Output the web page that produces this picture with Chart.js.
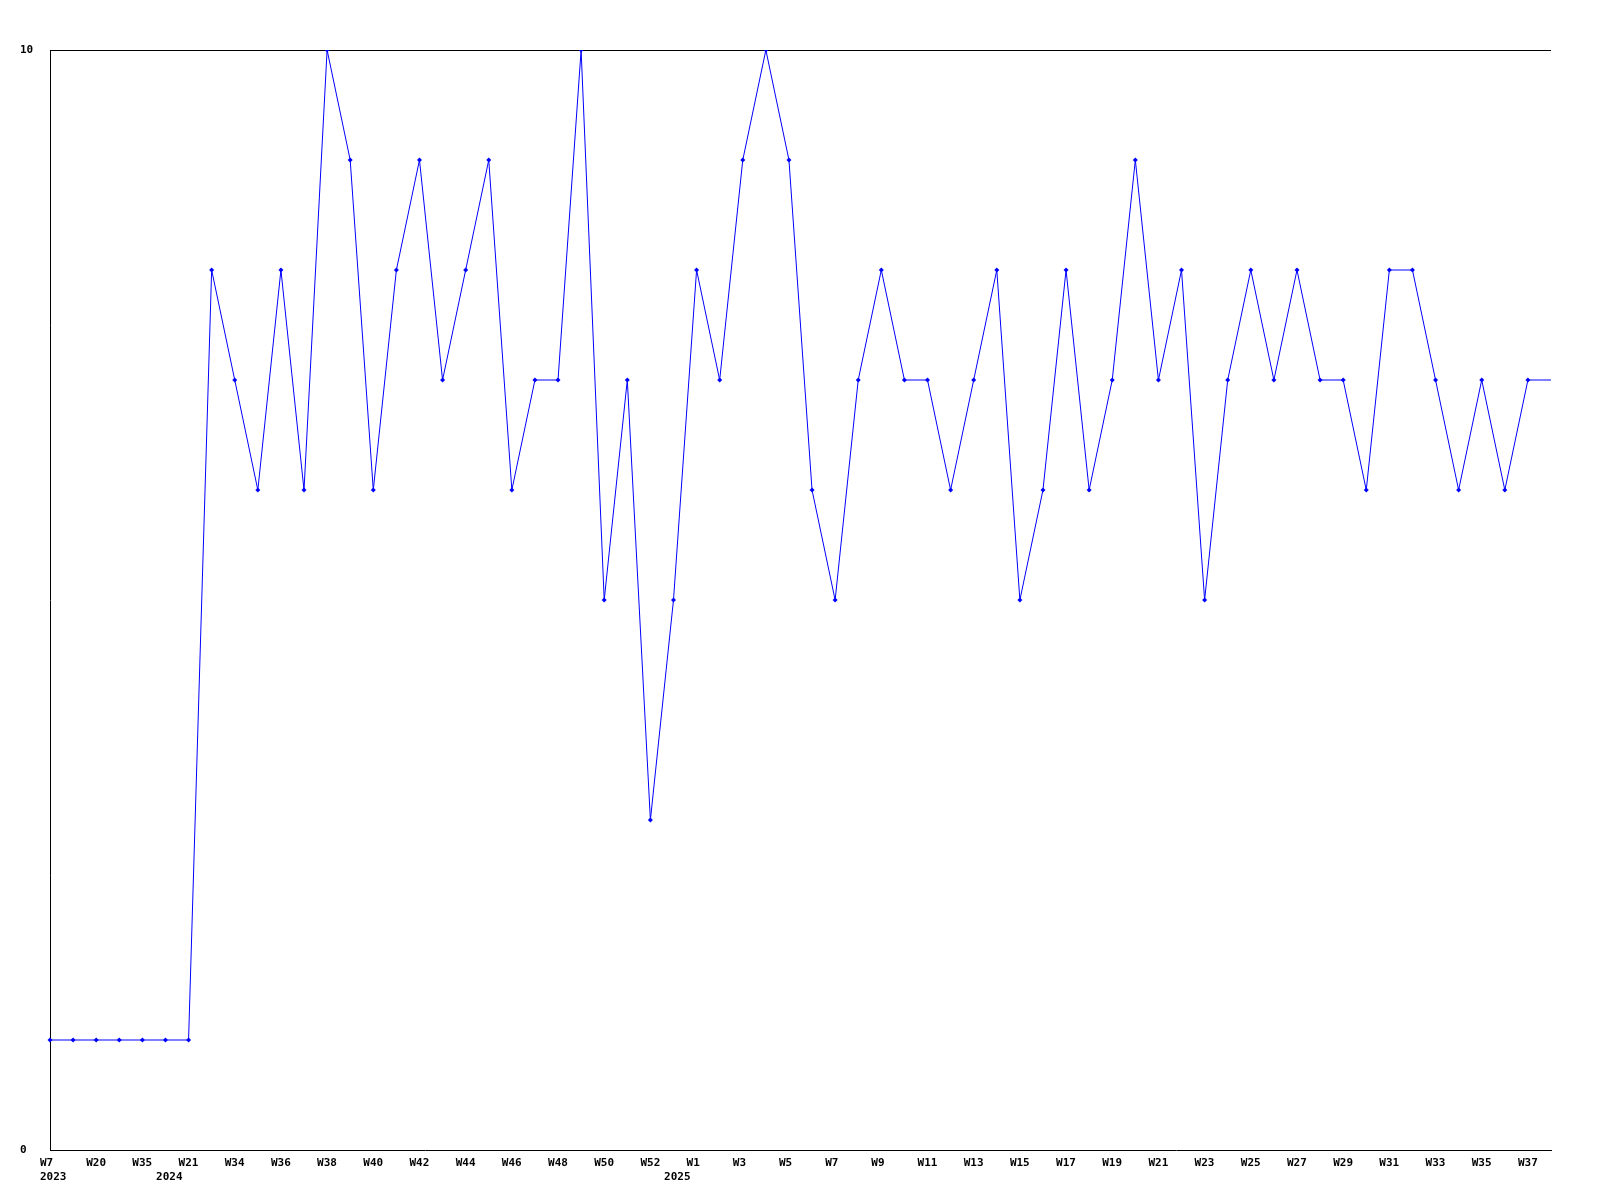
<!DOCTYPE html>
<html lang="en">
  <head>
    <meta charset="UTF-8" />
    <title>Weekly</title>
    <script src="https://cdn.jsdelivr.net/npm/chart.js"></script>
    <style>
      body {
        margin: 0;
        background: #fff;
      }
    </style>
  </head>
  <body>
    <canvas id="myChart" width="1600" height="1200"></canvas>
  </body>
  <script>
    // week labels, one per point (odd ones are not printed on the axis)
    const weekLabels = [
      "W7", "W12", "W20", "W27", "W35", "W45", "W21", "W33",
      "W34", "W35", "W36", "W37", "W38", "W39", "W40", "W41",
      "W42", "W43", "W44", "W45", "W46", "W47", "W48", "W49",
      "W50", "W51", "W52", "W53", "W1", "W2", "W3", "W4",
      "W5", "W6", "W7", "W8", "W9", "W10", "W11", "W12",
      "W13", "W14", "W15", "W16", "W17", "W18", "W19", "W20",
      "W21", "W22", "W23", "W24", "W25", "W26", "W27", "W28",
      "W29", "W30", "W31", "W32", "W33", "W34", "W35", "W36",
      "W37", "W38",
    ];
    // year shown under the first week of each year (index -> year)
    const yearIdx = [0, 6, 28];
    const yearText = ["2023", "2024", "2025"];

    const values = [
      1, 1, 1, 1, 1, 1, 1, 8,
      7, 6, 8, 6, 10, 9, 6, 8,
      9, 7, 8, 9, 6, 7, 7, 10,
      5, 7, 3, 5, 8, 7, 9, 10,
      9, 6, 5, 7, 8, 7, 7, 6,
      7, 8, 5, 6, 8, 6, 7, 9,
      7, 8, 5, 7, 8, 7, 8, 7,
      7, 6, 8, 8, 7, 6, 7, 6,
      7, 7,
    ];
    const lastIdx = values.length - 1; // line runs on to the right edge, no marker there

    const fontFamily = "'DejaVu Sans Mono', monospace";
    const tickFont = { family: fontFamily, size: 11, weight: "bold" };

    // second row of x labels: the year, tucked left of its week tick
    const yearRow = {
      id: "yearRow",
      afterDraw(chart) {
        const xs = chart.scales.x;
        const c = chart.ctx;
        c.save();
        c.font = "bold 11px " + fontFamily;
        c.fillStyle = "#000";
        c.textBaseline = "middle";
        c.textAlign = "left";
        yearIdx.forEach((idx, k) => {
          const px = xs.getPixelForValue(idx);
          const w = c.measureText(yearText[k]).width;
          const left = Math.max(px - 6 - w, xs.left - 10);
          c.fillText(yearText[k], left, xs.top + 27);
        });
        c.restore();
      },
    };

    new Chart(document.getElementById("myChart"), {
      type: "line",
      data: {
        labels: weekLabels,
        datasets: [
          {
            data: values,
            borderColor: "#0000ff",
            backgroundColor: "#0000ff",
            borderWidth: 1,
            tension: 0,
            pointStyle: "rectRot",
            pointRadius: (c) => (c.dataIndex === lastIdx ? 0 : 2.5),
            pointBorderWidth: 0,
          },
        ],
      },
      options: {
        responsive: false,
        animation: false,
        layout: { padding: { left: 20, right: 49, top: 50, bottom: 0 } },
        plugins: { legend: { display: false }, tooltip: { enabled: false } },
        scales: {
          x: {
            offset: false,
            grid: { display: false, drawTicks: false },
            border: { display: true, color: "#000", width: 1 },
            ticks: {
              autoSkip: false,
              maxRotation: 0,
              minRotation: 0,
              align: "start",
              labelOffset: -10,
              padding: 7,
              color: "#000",
              font: tickFont,
              callback: function (v, i) {
                return i % 2 === 0 ? this.getLabelForValue(v) : null;
              },
            },
            afterFit: (s) => {
              s.height = 50;
            },
          },
          y: {
            min: 0,
            max: 10,
            grid: {
              drawTicks: false,
              color: (c) => (c.tick && c.tick.value === 10 ? "#000" : "rgba(0,0,0,0)"),
            },
            border: { display: true, color: "#000", width: 1 },
            ticks: {
              stepSize: 10,
              crossAlign: "far",
              color: "#000",
              font: tickFont,
            },
            afterFit: (s) => {
              s.width = 30;
            },
          },
        },
      },
      plugins: [yearRow],
    });
  </script>
</html>
